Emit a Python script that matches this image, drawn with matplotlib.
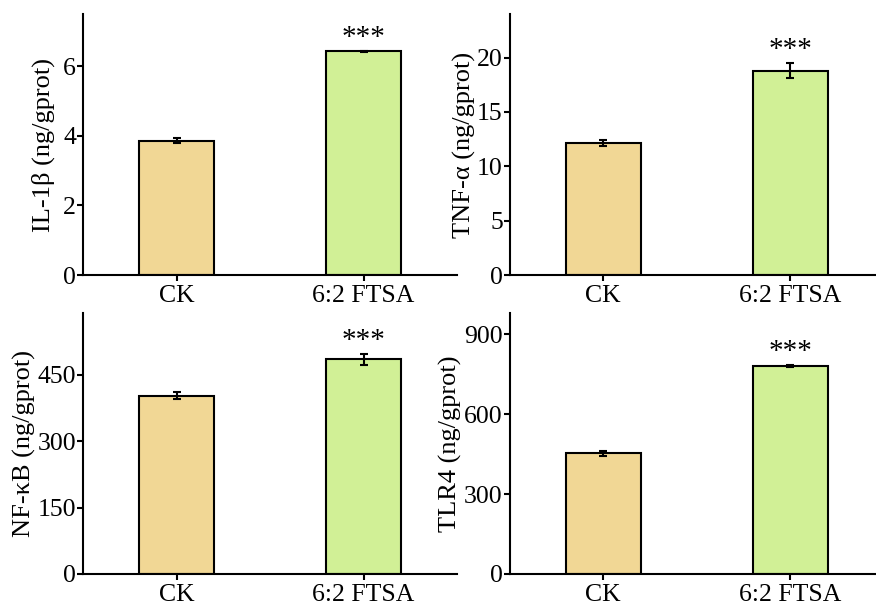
import numpy as np
from matplotlib import pyplot as plt

plt.rcParams['font.family'] = ['Liberation Serif', 'DejaVu Serif']

groups = ['CK', '6:2 FTSA']
colors = ['#F1D795', '#D1F096']

labels = ['IL-1β (ng/gprot)', 'TNF-α (ng/gprot)', 'NF-κB (ng/gprot)', 'TLR4 (ng/gprot)']
means = [[3.86, 6.43], [12.15, 18.8], [403, 485], [452, 780]]
errs = [[0.07, 0.02], [0.26, 0.66], [7, 12], [8, 5]]
ylims = [7.5, 24, 590, 980]
yticks = [[0, 2, 4, 6], [0, 5, 10, 15, 20], [0, 150, 300, 450], [0, 300, 600, 900]]
stars = ['', '***']

W, H = 876, 606
fig = plt.figure(figsize=(W / 100, H / 100), dpi=100)

# axes boxes in pixels: left, top, right, bottom
boxes = [(83, 14, 457, 275), (509.7, 14, 883.7, 275),
         (83, 312.7, 457, 574), (509.7, 312.7, 883.7, 574)]
# right edge (pixels) of each y label
label_x = [55, 476, 36, 462]

x = np.arange(len(groups))
for k in range(4):
    l, t, r, b = boxes[k]
    ax = fig.add_axes([l / W, 1 - b / H, (r - l) / W, (b - t) / H])
    ax.bar(x, means[k], width=0.4, color=colors, edgecolor='black', linewidth=1.5,
           yerr=errs[k], capsize=3, error_kw=dict(elinewidth=1.5, capthick=1.5, ecolor='black'))
    for i in range(len(groups)):
        if stars[i]:
            ax.annotate(stars[i], (x[i], means[k][i] + errs[k][i]), xytext=(0, 0),
                        textcoords='offset points', ha='center', va='bottom', fontsize=21)
    ax.set_xlim(-0.5, 1.5)
    ax.set_ylim(0, ylims[k])
    ax.set_yticks(yticks[k])
    ax.set_xticks(x)
    ax.set_xticklabels(groups)
    ax.set_ylabel(labels[k], fontsize=19)
    ax.yaxis.set_label_coords((label_x[k] - l) / (r - l), 0.5)
    ax.tick_params(labelsize=18.5, width=1.5, length=4.5)
    ax.tick_params(axis='y', pad=0.5)
    ax.tick_params(axis='x', pad=2.5)
    ax.spines['top'].set_visible(False)
    ax.spines['right'].set_visible(False)
    ax.spines['left'].set_linewidth(1.5)
    ax.spines['bottom'].set_linewidth(1.5)

plt.savefig('out.png', dpi=100)
